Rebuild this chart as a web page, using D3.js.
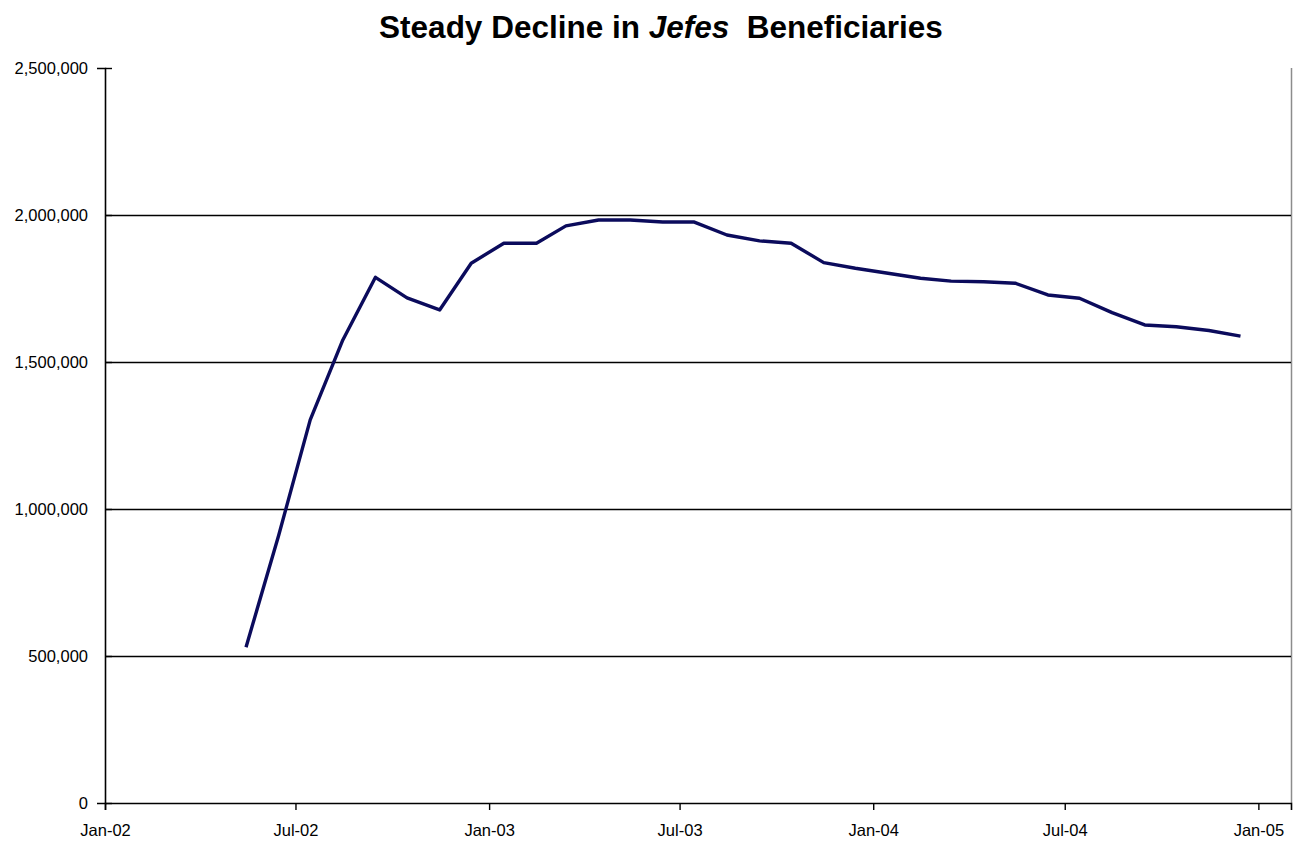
<!DOCTYPE html>
<html>
<head>
<meta charset="utf-8">
<script src="https://cdnjs.cloudflare.com/ajax/libs/d3/7.8.5/d3.min.js"></script>
<style>
  html, body { margin: 0; padding: 0; background: #ffffff; }
  svg { display: block; font-family: "Liberation Sans", Arial, sans-serif; }
</style>
</head>
<body>
<svg id="chart" width="1305" height="847"></svg>
<script>
// Monthly beneficiaries of the Jefes de Hogar programme (mid-month readings)
const months = [
  "2002-05", "2002-06", "2002-07", "2002-08", "2002-09", "2002-10", "2002-11", "2002-12",
  "2003-01", "2003-02", "2003-03", "2003-04", "2003-05", "2003-06", "2003-07", "2003-08",
  "2003-09", "2003-10", "2003-11", "2003-12", "2004-01", "2004-02", "2004-03", "2004-04",
  "2004-05", "2004-06", "2004-07", "2004-08", "2004-09", "2004-10", "2004-11", "2004-12"
];
const beneficiaries = [
  530000, 910000, 1303000, 1575000, 1788000, 1718000, 1677000, 1836000,
  1904000, 1904000, 1963000, 1983000, 1983000, 1976000, 1976000, 1932000,
  1912000, 1904000, 1838000, 1819000, 1802000, 1785000, 1775000, 1773000,
  1768000, 1728000, 1717000, 1668000, 1626000, 1620000, 1607000, 1588000
];
const yTicks = [0, 500000, 1000000, 1500000, 2000000, 2500000];
const xTickLabels = ["Jan-02", "Jul-02", "Jan-03", "Jul-03", "Jan-04", "Jul-04", "Jan-05"];
const titleParts = [
  { text: "Steady Decline in ", italic: false },
  { text: "Jefes", italic: true },
  { text: "  Beneficiaries", italic: false }
];

const parseMonth = d3.timeParse("%Y-%m");
const parseTick = d3.timeParse("%b-%y");
const data = months.map((m, i) => {
  const d = parseMonth(m);
  d.setDate(15);
  return { date: d, value: beneficiaries[i] };
});

const svg = d3.select("#chart");
const plot = { left: 105, right: 1291, top: 68, bottom: 803 };

const x = d3.scaleTime()
  .domain([new Date(2002, 0, 1), new Date(2005, 1, 1)])
  .range([plot.left, plot.right]);
const y = d3.scaleLinear()
  .domain([0, 2500000])
  .range([plot.bottom, plot.top]);

// Title
const title = svg.append("text")
  .attr("x", 661)
  .attr("y", 38)
  .attr("text-anchor", "middle")
  .attr("font-size", 31.5)
  .attr("font-weight", "bold")
  .attr("fill", "#000")
  .style("white-space", "pre");
titleParts.forEach(p => {
  title.append("tspan")
    .attr("font-style", p.italic ? "italic" : "normal")
    .text(p.text);
});

// Plot-area frame: right edge in grey
svg.append("line")
  .attr("x1", plot.right + 0.5)
  .attr("x2", plot.right + 0.5)
  .attr("y1", plot.top)
  .attr("y2", plot.bottom)
  .attr("stroke", "#8c8c8c")
  .attr("stroke-width", 1.5);

// Horizontal gridlines
svg.append("g")
  .selectAll("line")
  .data(yTicks.filter(v => v > 0 && v < 2500000))
  .join("line")
  .attr("x1", plot.left)
  .attr("x2", plot.right)
  .attr("y1", d => Math.round(y(d)) + 0.5)
  .attr("y2", d => Math.round(y(d)) + 0.5)
  .attr("stroke", "#000")
  .attr("stroke-width", 1.3);

// Y axis (ticks cross the axis line)
const yAxis = svg.append("g")
  .attr("transform", `translate(${plot.left},0)`)
  .call(d3.axisLeft(y)
    .tickValues(yTicks)
    .tickSize(8)
    .tickPadding(9)
    .tickFormat(d3.format(",")));
yAxis.selectAll(".tick line").attr("x2", 7);

// X axis
const xAxis = svg.append("g")
  .attr("transform", `translate(0,${plot.bottom})`)
  .call(d3.axisBottom(x)
    .tickValues(xTickLabels.map(parseTick))
    .tickSize(7)
    .tickPadding(14)
    .tickFormat(d3.timeFormat("%b-%y")));

[yAxis, xAxis].forEach(g => {
  g.select(".domain").attr("stroke", "#000").attr("stroke-width", 1.6);
  g.selectAll(".tick line").attr("stroke", "#000").attr("stroke-width", 1.4);
  g.selectAll("text")
    .attr("font-family", "'Liberation Sans', Arial, sans-serif")
    .attr("font-size", 16.5)
    .attr("fill", "#000");
});

// Series line
const line = d3.line()
  .x(d => x(d.date))
  .y(d => y(d.value));

svg.append("path")
  .datum(data)
  .attr("d", line)
  .attr("fill", "none")
  .attr("stroke", "#0b0b5c")
  .attr("stroke-width", 3.4)
  .attr("stroke-linejoin", "round")
  .attr("stroke-linecap", "butt");
</script>
</body>
</html>
